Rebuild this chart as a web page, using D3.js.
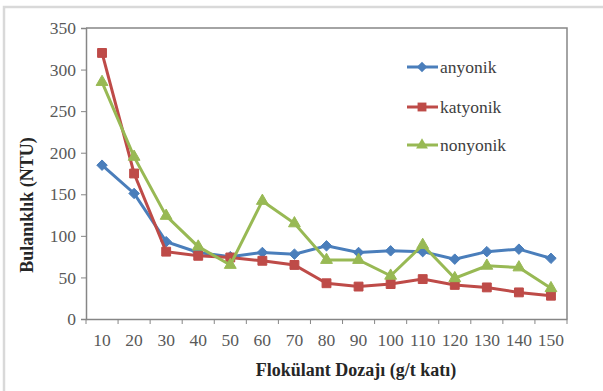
<!DOCTYPE html>
<html>
<head>
<meta charset="utf-8">
<script src="https://cdn.jsdelivr.net/npm/d3@7"></script>
<style>
  body { margin: 0; background: #fff; }
</style>
</head>
<body>
<div id="chart"></div>
<script>
// doses on the x axis (g/t katı)
var doses = [10, 20, 30, 40, 50, 60, 70, 80, 90, 100, 110, 120, 130, 140, 150];
var anyonik  = [185, 151, 93, 80, 75, 80, 78, 88, 80, 82, 81, 72, 81, 84, 73];
var katyonik = [320, 175, 81, 76, 74, 70, 65, 43, 39, 42, 48, 41, 38, 32, 28];
var nonyonik = [285, 195, 124, 87, 65, 142, 115, 71, 71, 52, 89, 49, 64, 62, 37];
var yTicks = [0, 50, 100, 150, 200, 250, 300, 350];

var seriesNames = ["anyonik", "katyonik", "nonyonik"];
var seriesValues = [anyonik, katyonik, nonyonik];
var colors = ["#4a7ebb", "#be4b48", "#98b954"];
var symbols = [d3.symbolDiamond2, d3.symbolSquare2, d3.symbolTriangle2];
var symSizes = [70, 100, 100];

var SERIF = "Liberation Serif";
var W = 603, H = 391;
var margin = {top: 28, right: 36, bottom: 72, left: 86};
var width = 567 - margin.left, height = 319 - margin.top;

var svg = d3.select("#chart").append("svg")
    .attr("width", W).attr("height", H);

// outer chart frame
svg.append("rect")
    .attr("x", 4).attr("y", 7).attr("width", W + 10).attr("height", H + 10)
    .attr("fill", "none").attr("stroke", "#d9d9d9").attr("stroke-width", 2.5);

var g = svg.append("g").attr("transform", "translate(" + margin.left + "," + margin.top + ")");

var x = d3.scaleBand().domain(doses).range([0, width]);
var y = d3.scaleLinear().domain([0, 350]).range([height, 0]);

// plot border (top and right)
g.append("path")
    .attr("d", "M0,0H" + width + "V" + height)
    .attr("fill", "none").attr("stroke", "#868686").attr("stroke-width", 1.5);

// y axis
var yAxis = g.append("g").call(d3.axisLeft(y).tickValues(yTicks).tickSize(5).tickPadding(5));
yAxis.select(".domain").attr("stroke", "#868686").attr("stroke-width", 1.5);
yAxis.selectAll(".tick line").attr("stroke", "#868686");
yAxis.selectAll("text").attr("font-size", 17.5).attr("fill", "#595959")
    .attr("font-family", SERIF);

// x axis, ticks at category boundaries
var xAxis = g.append("g").attr("transform", "translate(0," + height + ")")
    .call(d3.axisBottom(x).tickSize(0).tickPadding(15));
xAxis.select(".domain").attr("stroke", "#868686").attr("stroke-width", 1.5);
xAxis.selectAll("text").attr("font-size", 17.5).attr("fill", "#595959")
    .attr("font-family", SERIF);
xAxis.selectAll(".bound").data(d3.range(doses.length + 1)).enter().append("line")
    .attr("x1", function(i) { return i * x.step(); })
    .attr("x2", function(i) { return i * x.step(); })
    .attr("y1", 0).attr("y2", 5)
    .attr("stroke", "#868686");

var line = d3.line()
    .x(function(d, i) { return x(doses[i]) + x.bandwidth() / 2; })
    .y(function(d) { return y(d); });

seriesValues.forEach(function(vals, k) {
    g.append("path").datum(vals)
        .attr("fill", "none").attr("stroke", colors[k]).attr("stroke-width", 3)
        .attr("d", line);
    g.selectAll(".m" + k).data(vals).enter().append("path")
        .attr("transform", function(d, i) {
            return "translate(" + (x(doses[i]) + x.bandwidth() / 2) + "," + y(d) + ")";
        })
        .attr("d", d3.symbol().type(symbols[k]).size(symSizes[k]))
        .attr("fill", colors[k]).attr("stroke", colors[k]).attr("stroke-width", 1);
});

// legend
var legend = svg.append("g");
var legendY = [67, 107, 145];
seriesNames.forEach(function(name, k) {
    var ly = legendY[k];
    legend.append("line").attr("x1", 407).attr("x2", 438).attr("y1", ly).attr("y2", ly)
        .attr("stroke", colors[k]).attr("stroke-width", 3);
    legend.append("path").attr("transform", "translate(422," + ly + ")")
        .attr("d", d3.symbol().type(symbols[k]).size(symSizes[k]))
        .attr("fill", colors[k]);
    legend.append("text").attr("x", 440).attr("y", ly).attr("dy", "0.32em")
        .attr("font-family", SERIF)
        .attr("font-size", 17.5).attr("fill", "#404040").text(name);
});

// axis titles
svg.append("text")
    .attr("x", 356).attr("y", 376).attr("text-anchor", "middle")
    .attr("font-family", SERIF)
    .attr("font-size", 18).attr("font-weight", "bold").attr("fill", "#262626")
    .text("Flokülant Dozajı (g/t katı)");
svg.append("text")
    .attr("transform", "translate(33,205)rotate(-90)").attr("text-anchor", "middle")
    .attr("font-family", SERIF)
    .attr("font-size", 18).attr("font-weight", "bold").attr("fill", "#262626")
    .text("Bulanıklık (NTU)");
</script>
</body>
</html>
